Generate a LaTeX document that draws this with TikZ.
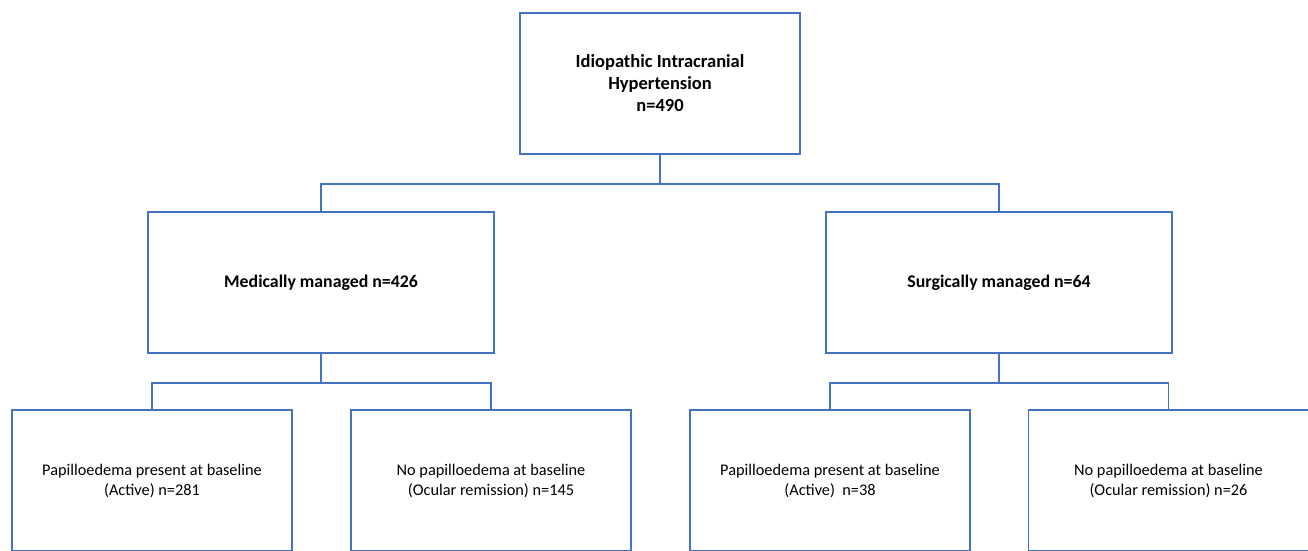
\documentclass[tikz,border=0pt]{standalone}
\usepackage{fontspec}
\setmainfont{Carlito}
\definecolor{boxblue}{RGB}{68,114,196}
\tikzset{
  flowbox/.style={draw=boxblue, line width=1.5pt, fill=white, align=center, inner sep=0pt},
  bigbox/.style={flowbox, minimum width=346pt, minimum height=141pt, font=\fontsize{17.8}{22}\selectfont\bfseries},
  smallbox/.style={flowbox, minimum width=280pt, minimum height=141pt, font=\fontsize{16.3}{20}\selectfont},
  link/.style={draw=boxblue, line width=1.5pt}
}
\begin{document}
\begin{tikzpicture}[x=1pt,y=1pt,yscale=-1,xscale=1]
        \useasboundingbox (0,0) rectangle (1308,550);
        \clip (0,0) rectangle (1308,550);

        %Shape: Rectangle [top]
        \node[smallbox, font=\fontsize{18.5}{22}\selectfont\bfseries] (iih) at (660,83.5) {Idiopathic Intracranial\\Hypertension\\n=490};

        %Shape: Rectangle [second row]
        \node[bigbox] (medical) at (321,282.5) {Medically managed n=426};
        \node[bigbox] (surgical) at (999,282.5) {Surgically managed n=64};

        %Shape: Rectangle [third row]
        \node[smallbox] (medactive) at (152,480.5) {Papilloedema present at baseline\\(Active) n=281};
        \node[smallbox] (medremit) at (491,480.5) {No papilloedema at baseline\\(Ocular remission) n=145};
        \node[smallbox] (suractive) at (830,480.5) {Papilloedema present at baseline\\(Active)\ \ n=38};
        \node[smallbox] (surremit) at (1168.5,480.5) {No papilloedema at baseline\\(Ocular remission) n=26};

        %Straight Lines
        \draw[link] (iih.south) -- ++(0,29) -| (medical.north);
        \draw[link] (iih.south) -- ++(0,29) -| (surgical.north);
        \draw[link] (medical.south) -- ++(0,29) -| (medactive.north);
        \draw[link] (medical.south) -- ++(0,29) -| (medremit.north);
        \draw[link] (surgical.south) -- ++(0,29) -| (suractive.north);
        \draw[link] (surgical.south) -- ++(0,29) -| (surremit.north);

\end{tikzpicture}
\end{document}
